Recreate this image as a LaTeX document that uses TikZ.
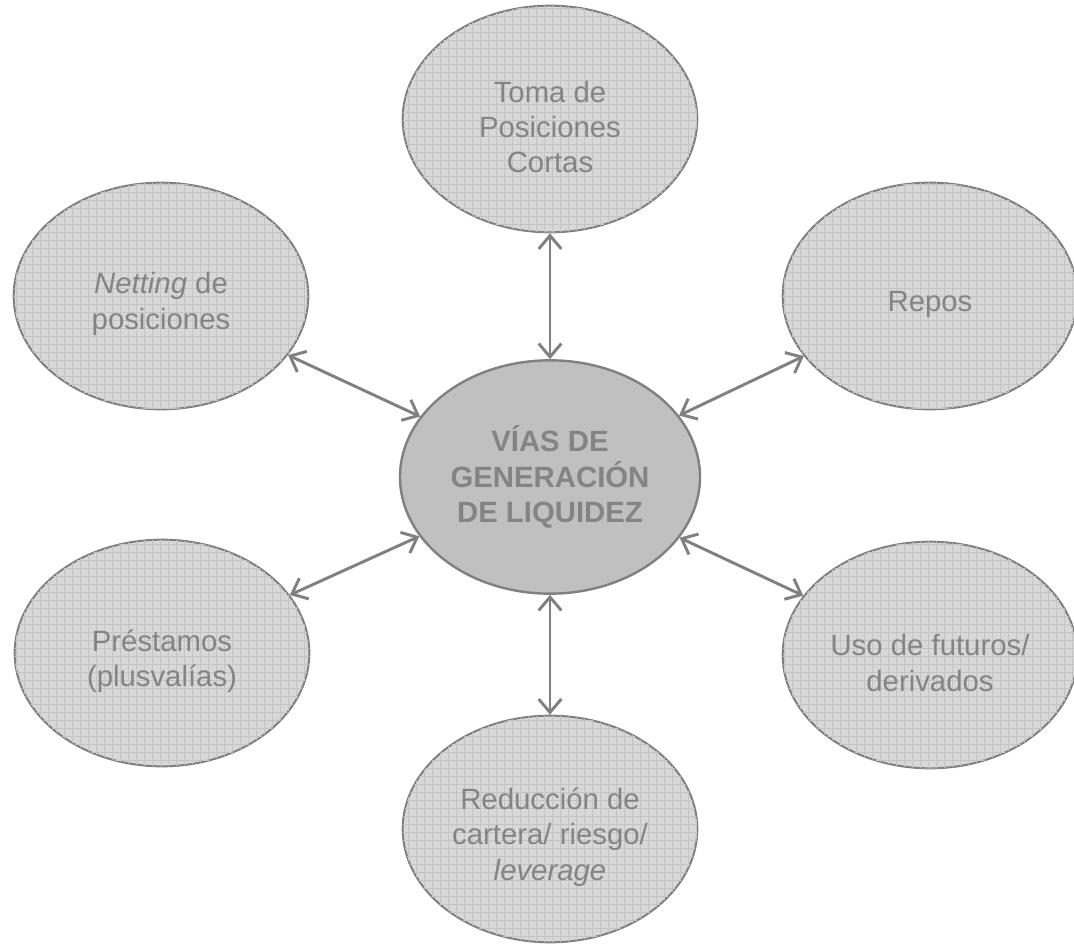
\documentclass[tikz,border=0pt]{standalone}
\usepackage{fontspec}
\setmainfont{Liberation Sans}
\usepackage{tikz}
\usetikzlibrary{arrows.meta,shapes.geometric,patterns.meta}

\definecolor{linegray}{RGB}{128,128,128}
\definecolor{textgray}{RGB}{132,132,132}
\definecolor{hubfill}{RGB}{192,192,192}
\definecolor{wayfill}{RGB}{216,216,216}
\definecolor{gridgray}{RGB}{196,196,196}

\tikzset{
    waytext/.style={align=center, text=textgray, inner sep=0pt,
        font=\fontsize{22}{26.6}\selectfont, yshift=-6pt},
    way/.style={ellipse, draw=linegray, line width=1.5pt, fill=wayfill,
        postaction={pattern={Lines[distance=6pt, angle=0, line width=0.5pt]}, pattern color=gridgray},
        postaction={pattern={Lines[distance=6pt, angle=90, line width=0.5pt]}, pattern color=gridgray},
        minimum width=221pt, minimum height=170pt, inner sep=0pt,
        label={[waytext]center:{#1}}},
    hub/.style={ellipse, draw=linegray, line width=1.8pt, fill=hubfill,
        minimum width=225pt, minimum height=175pt, inner sep=0pt,
        align=center, text=textgray, font=\fontsize{22}{26.6}\selectfont\bfseries},
    link/.style={draw=linegray, line width=2.2pt,
        {Straight Barb[length=10pt, width=17pt]}-{Straight Barb[length=10pt, width=17pt]}}
}

\begin{document}
\begin{tikzpicture}[x=0.75pt, y=-0.75pt]

    \useasboundingbox (0,0) rectangle (1074,944);

    % --- Centre ---
    \node[hub] (vias) at (550,477) {VÍAS DE\\GENERACIÓN\\DE LIQUIDEZ};

    % --- Ways round the centre ---
    \node[way={Toma de\\Posiciones\\Cortas}]           (cortas)    at (550,119) {};
    \node[way={\textit{Netting} de\\posiciones}]        (netting)   at (161,296) {};
    \node[way={Repos}]                                  (repos)     at (930,296) {};
    \node[way={Préstamos\\(plusvalías)}]                (prestamos) at (162,653) {};
    \node[way={Uso de futuros/\\derivados}]             (futuros)   at (930,655) {};
    \node[way={Reducción de\\cartera/ riesgo/\\\textit{leverage}}] (reduccion) at (550,829) {};

    % --- Links ---
    \draw[link] (cortas) -- (vias);
    \draw[link] (netting) -- (vias);
    \draw[link] (repos) -- (vias);
    \draw[link] (prestamos) -- (vias);
    \draw[link] (futuros) -- (vias);
    \draw[link] (reduccion) -- (vias);

\end{tikzpicture}
\end{document}
